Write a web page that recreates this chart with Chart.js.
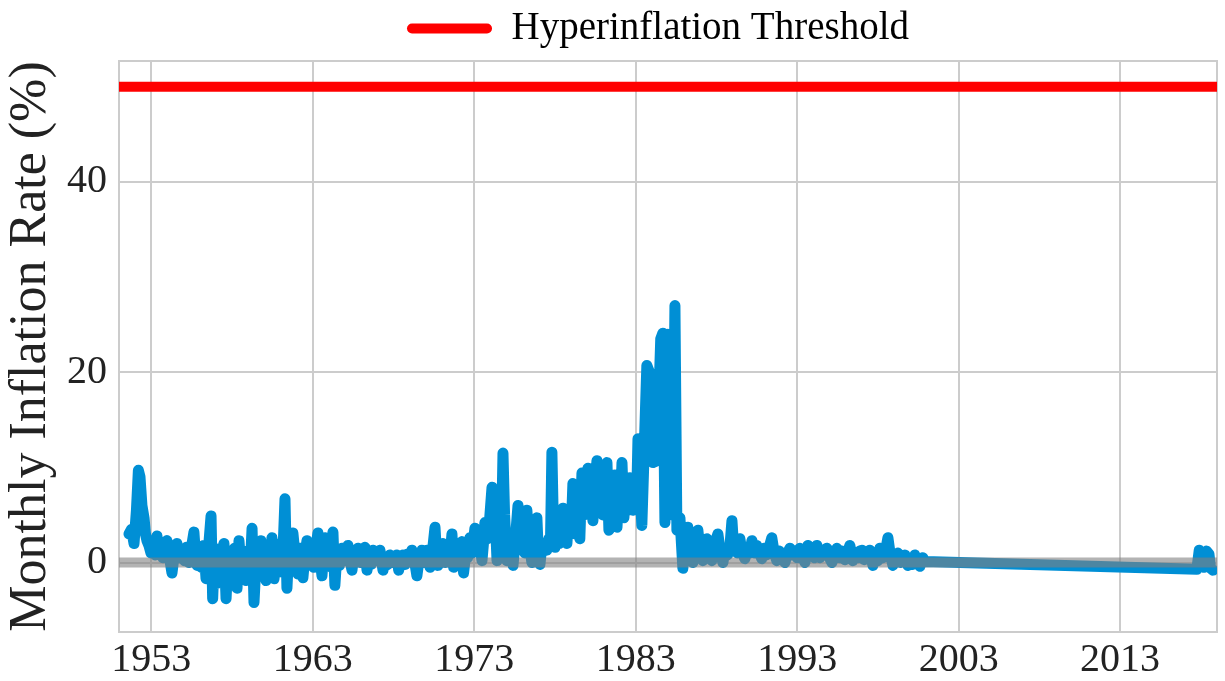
<!DOCTYPE html>
<html><head><meta charset="utf-8">
<script src="https://cdn.jsdelivr.net/npm/chart.js@4.4.1/dist/chart.umd.min.js"></script>
<style>html,body{margin:0;padding:0;background:#fff}#wrap{width:1225px;height:681px}</style>
</head><body><div id="wrap"><canvas id="c" width="1225" height="681"></canvas></div>
<script>
const years = [
  1951.62, 1951.78, 1951.93, 1952.08, 1952.20, 1952.30, 1952.42, 1952.55, 1952.64, 1952.73,
  1952.85, 1952.98, 1953.12, 1953.25, 1953.35, 1953.48, 1953.60, 1953.72, 1953.85, 1953.97,
  1954.10, 1954.28, 1954.42, 1954.59, 1954.72, 1954.90, 1955.05, 1955.18, 1955.33, 1955.48,
  1955.64, 1955.75, 1955.83, 1955.98, 1956.10, 1956.25, 1956.39, 1956.52, 1956.70, 1956.80,
  1956.92, 1957.05, 1957.19, 1957.32, 1957.50, 1957.63, 1957.75, 1957.88, 1958.00, 1958.15,
  1958.31, 1958.43, 1958.55, 1958.70, 1958.86, 1959.00, 1959.12, 1959.24, 1959.36, 1959.50,
  1959.65, 1959.79, 1959.95, 1960.10, 1960.25, 1960.36, 1960.47, 1960.60, 1960.75, 1960.88,
  1961.00, 1961.14, 1961.28, 1961.40, 1961.52, 1961.64, 1961.77, 1961.92, 1962.08, 1962.22,
  1962.39, 1962.52, 1962.64, 1962.78, 1962.92, 1963.05, 1963.18, 1963.32, 1963.45, 1963.57,
  1963.67, 1963.76, 1963.90, 1964.02, 1964.15, 1964.25, 1964.37, 1964.50, 1964.65, 1964.81,
  1964.95, 1965.08, 1965.18, 1965.30, 1965.43, 1965.55, 1965.68, 1965.80, 1965.95, 1966.10,
  1966.23, 1966.36, 1966.50, 1966.62, 1966.73, 1966.88, 1967.02, 1967.16, 1967.35, 1967.50,
  1967.65, 1967.78, 1967.95, 1968.08, 1968.21, 1968.32, 1968.45, 1968.59, 1968.72, 1968.88,
  1969.00, 1969.14, 1969.30, 1969.45, 1969.60, 1969.76, 1969.90, 1970.07, 1970.26, 1970.40,
  1970.57, 1970.66, 1970.75, 1970.90, 1971.06, 1971.20, 1971.35, 1971.50, 1971.62, 1971.72,
  1971.85, 1971.98, 1972.10, 1972.24, 1972.34, 1972.48, 1972.60, 1972.73, 1972.88, 1973.04,
  1973.18, 1973.30, 1973.48, 1973.57, 1973.66, 1973.80, 1973.95, 1974.10, 1974.22, 1974.32,
  1974.41, 1974.55, 1974.68, 1974.78, 1974.88, 1975.02, 1975.15, 1975.28, 1975.40, 1975.55,
  1975.71, 1975.85, 1976.00, 1976.12, 1976.26, 1976.40, 1976.57, 1976.70, 1976.88, 1976.97,
  1977.07, 1977.20, 1977.35, 1977.50, 1977.62, 1977.72, 1977.81, 1977.90, 1978.00, 1978.12,
  1978.25, 1978.38, 1978.49, 1978.60, 1978.74, 1978.85, 1979.00, 1979.11, 1979.22, 1979.32,
  1979.45, 1979.54, 1979.67, 1979.78, 1979.90, 1980.04, 1980.15, 1980.25, 1980.35, 1980.48,
  1980.60, 1980.72, 1980.85, 1980.97, 1981.10, 1981.22, 1981.34, 1981.45, 1981.58, 1981.71,
  1981.84, 1981.95, 1982.05, 1982.15, 1982.27, 1982.38, 1982.50, 1982.64, 1982.75, 1982.83,
  1982.95, 1983.05, 1983.14, 1983.38, 1983.69, 1983.85, 1984.07, 1984.31, 1984.55, 1984.68,
  1984.81, 1984.99, 1985.10, 1985.20, 1985.30, 1985.43, 1985.55, 1985.65, 1985.74, 1985.92,
  1986.05, 1986.15, 1986.23, 1986.38, 1986.54, 1986.70, 1986.85, 1987.00, 1987.16, 1987.30,
  1987.41, 1987.55, 1987.72, 1987.90, 1988.09, 1988.25, 1988.40, 1988.55, 1988.70, 1988.85,
  1988.96, 1989.05, 1989.14, 1989.30, 1989.45, 1989.60, 1989.76, 1989.90, 1990.05, 1990.20,
  1990.35, 1990.50, 1990.65, 1990.81, 1990.95, 1991.10, 1991.25, 1991.43, 1991.58, 1991.74,
  1991.90, 1992.05, 1992.24, 1992.40, 1992.55, 1992.70, 1992.85, 1993.00, 1993.17, 1993.32,
  1993.48, 1993.66, 1993.80, 1993.95, 1994.08, 1994.22, 1994.41, 1994.60, 1994.84, 1995.00,
  1995.15, 1995.30, 1995.46, 1995.62, 1995.78, 1995.95, 1996.10, 1996.26, 1996.45, 1996.60,
  1996.75, 1996.88, 1997.01, 1997.15, 1997.30, 1997.50, 1997.69, 1997.85, 1998.00, 1998.12,
  1998.30, 1998.45, 1998.62, 1998.75, 1998.93, 1999.08, 1999.24, 1999.40, 1999.55, 1999.67,
  1999.85, 2000.00, 2000.15, 2000.29, 2000.45, 2000.60, 2000.70, 2000.78, 2000.91, 2017.75,
  2017.90, 2018.00, 2018.10, 2018.20, 2018.35, 2018.50, 2018.60, 2018.75
];
const inflation = [
  3.0, 3.5, 2.0, 5.5, 9.7, 9.0, 6.0, 4.7, 3.0, 2.3,
  1.8, 1.0, 2.0, 0.8, 2.8, 1.0, 1.3, 0.5, 1.8, 2.3,
  0.8, -1.1, 0.8, 2.0, 0.5, 1.3, 0.2, 1.6, 0.0, 1.5,
  3.2, 0.5, -0.3, 1.5, -0.5, 1.8, -1.7, 1.0, 4.9, -3.8,
  1.5, -2.2, -1.9, 1.0, 2.0, -3.8, 0.5, -1.5, 0.2, 1.5,
  -2.7, 2.3, -0.5, 1.2, -1.9, 1.0, -0.8, 3.6, -4.2, 0.5,
  -1.0, 2.3, 0.2, -1.9, 1.5, -0.5, 2.6, -1.7, 1.5, -1.0,
  2.0, 0.5, 6.7, -2.7, 1.5, -0.5, 3.1, 0.5, -1.2, 1.5,
  -1.6, 0.8, 2.3, 0.2, 1.8, -0.5, 1.5, 3.1, 0.5, -1.4,
  1.0, 2.6, 0.0, 1.8, -0.5, 3.2, -2.4, 1.0, -0.3, 1.5,
  0.2, 1.2, 1.8, 0.3, -0.8, 1.0, 0.2, 1.5, 0.0, 1.2,
  1.6, -0.8, 0.8, -0.2, 1.3, 0.2, 1.0, 1.3, -0.8, 0.6,
  -0.2, 0.8, 0.0, 0.6, 0.8, -0.8, 0.3, 0.8, -0.2, 0.9,
  0.1, 1.3, 0.2, -1.4, 0.6, 1.3, 0.0, 1.3, -0.5, 1.0,
  3.7, 1.0, -0.3, 1.0, 2.0, 0.0, 1.5, 0.5, 3.0, -0.5,
  1.2, 0.2, 1.5, 2.2, -1.1, 1.0, 0.5, 2.6, 1.0, 3.6,
  1.5, 2.5, 0.2, 2.0, 4.2, 2.5, 4.5, 7.9, 3.0, 4.0,
  0.2, 3.0, 2.0, 11.5, 5.0, 0.2, 2.0, 1.0, -0.3, 2.5,
  6.0, 2.0, 4.5, 1.0, 5.5, 2.0, 0.0, 3.0, 4.7, 1.0,
  -0.2, 2.0, 1.5, 1.3, 2.5, 2.0, 11.6, 4.0, 1.6, 3.5,
  2.0, 4.5, 5.7, 3.0, 2.0, 5.0, 3.0, 8.3, 4.0, 6.5,
  3.0, 2.5, 9.4, 5.0, 8.0, 9.9, 5.0, 8.5, 4.4, 8.0,
  10.7, 6.0, 9.5, 5.0, 9.0, 10.5, 3.4, 7.5, 5.0, 9.2,
  3.7, 7.0, 5.5, 10.5, 4.7, 8.0, 5.5, 8.9, 6.0, 5.5,
  8.0, 6.0, 13.0, 3.9, 20.7, 20.0, 10.5, 10.7, 23.5, 24.1,
  4.2, 24.0, 5.0, 22.0, 6.0, 27.0, 3.4, 4.5, 4.7, -0.6,
  2.5, 1.0, 3.7, 1.5, 0.0, 2.0, 3.4, 1.0, 0.2, 2.0,
  2.5, 1.0, 0.2, 2.0, 3.0, 1.0, 0.0, 1.5, 0.8, 2.0,
  4.4, 2.0, 1.3, 1.0, 2.5, 1.0, 0.4, 1.5, 1.0, 2.3,
  1.0, 1.8, 1.0, 0.4, 1.5, 0.8, 1.5, 2.6, 1.0, 0.2,
  1.2, 0.5, 0.0, 1.0, 1.5, 0.8, 1.2, 0.5, 1.5, 0.8,
  0.0, 1.8, 0.8, 1.2, 0.5, 1.8, 0.5, 1.2, 1.5, 0.5,
  0.0, 1.0, 1.5, 0.5, 1.2, 0.3, 1.0, 1.8, 0.2, 1.0,
  0.5, 1.2, 1.3, 0.3, 1.0, 1.3, -0.3, 0.8, 0.2, 1.5,
  0.5, 1.0, 2.6, 1.0, -0.3, 0.5, 1.0, 0.0, 0.6, 0.8,
  -0.3, 0.3, -0.2, 0.8, 0.0, -0.4, 0.3, 0.5, 0.1, -0.7,
  1.3, 1.0, 0.3, -0.5, 1.2, 0.9, -0.6, -0.8
];
const xTicks = [1953, 1963, 1973, 1983, 1993, 2003, 2013];
const yTicks = [0, 20, 40];
const xRange = [1951.0, 2019.0];
const yRange = [-7.3, 52.7];
const thresholdValue = 50;
const baselineValue = 0;
const thresholdLabel = 'Hyperinflation Threshold';
const yTitle = 'Monthly Inflation Rate (%)';

const SERIF = "'Liberation Serif', 'Times New Roman', serif";
const GRID = '#cccccc';
const TEXT = '#222222';

const framePlugin = {
  id: 'frame',
  beforeDatasetsDraw(chart) {
    const a = chart.chartArea, ctx = chart.ctx;
    ctx.save();
    ctx.strokeStyle = GRID;
    ctx.lineWidth = 2;
    ctx.strokeRect(a.left, a.top, a.right - a.left, a.bottom - a.top);
    ctx.restore();
  }
};
// legend is centred over the plot area (not the whole canvas), as in the reference
const legendShift = {
  id: 'legendShift',
  afterLayout(chart) {
    const lg = chart.legend;
    if (!lg) return;
    const dx = (chart.chartArea.left + chart.chartArea.right) / 2 - (lg.left + lg.right) / 2 - 10;
    lg.left += dx; lg.right += dx;
    lg.top -= 3; lg.bottom -= 3;
  }
};

new Chart(document.getElementById('c'), {
  type: 'line',
  data: {
    datasets: [
      {
        label: 'Monthly Inflation Rate',
        data: years.map((x, i) => ({ x, y: inflation[i] })),
        borderColor: '#008fd5', borderWidth: 11, pointRadius: 0,
        borderCapStyle: 'round', borderJoinStyle: 'round', tension: 0, fill: false, order: 3
      },
      {
        label: 'Zero',
        data: xRange.map(x => ({ x, y: baselineValue })),
        borderColor: 'rgba(128,128,128,0.6)', borderWidth: 10, pointRadius: 0, fill: false, order: 2
      },
      {
        label: thresholdLabel,
        data: xRange.map(x => ({ x, y: thresholdValue })),
        borderColor: '#ff0000', backgroundColor: '#ff0000', borderWidth: 10, pointRadius: 0, fill: false, order: 1
      }
    ]
  },
  options: {
    responsive: false, animation: false, devicePixelRatio: 1,
    layout: { padding: { left: 0, right: 8, top: 0, bottom: 0 } },
    plugins: {
      tooltip: { enabled: false },
      legend: {
        position: 'top', align: 'center',
        labels: {
          boxWidth: 85, boxHeight: 10, useBorderRadius: true, borderRadius: 5,
          padding: 12, color: TEXT,
          font: { family: SERIF, size: 39 },
          generateLabels: () => [{
            text: thresholdLabel, fillStyle: '#ff0000', strokeStyle: '#ff0000',
            lineWidth: 0, hidden: false, datasetIndex: 2, borderRadius: 5
          }]
        }
      }
    },
    scales: {
      x: {
        type: 'linear', min: xRange[0], max: xRange[1],
        afterBuildTicks: s => { s.ticks = xTicks.map(v => ({ value: v })); },
        afterFit: s => { s.height = 49; },
        ticks: { callback: v => String(v), color: TEXT, font: { family: SERIF, size: 40 }, padding: 4, maxRotation: 0, autoSkip: false },
        grid: { color: GRID, lineWidth: 2, drawTicks: false },
        border: { color: GRID, width: 2 }
      },
      y: {
        type: 'linear', min: yRange[0], max: yRange[1],
        afterBuildTicks: s => { s.ticks = yTicks.map(v => ({ value: v })); },
        afterFit: s => { s.width = 119; },
        ticks: { callback: v => String(v), color: TEXT, font: { family: SERIF, size: 40 }, padding: 12 },
        grid: { color: GRID, lineWidth: 2, drawTicks: false },
        border: { color: GRID, width: 2 },
        title: { display: true, text: yTitle, color: TEXT, font: { family: SERIF, size: 52 }, padding: 0 }
      }
    }
  },
  plugins: [framePlugin, legendShift]
});
</script>
</body></html>
